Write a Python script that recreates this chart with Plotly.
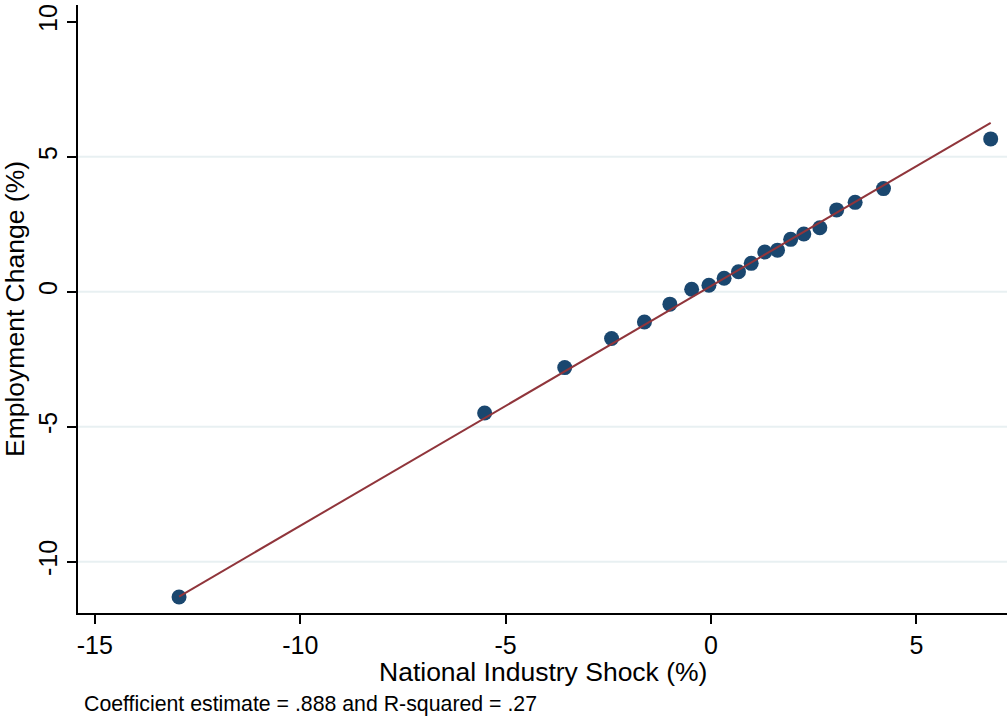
import numpy as np
import plotly.graph_objects as go

# Binned data: national industry shock (%) vs employment change (%)
shock = [-12.95, -5.51, -3.56, -2.42, -1.62, -1.00, -0.47, -0.05, 0.32, 0.67,
         0.98, 1.31, 1.62, 1.94, 2.26, 2.65, 3.06, 3.51, 4.20, 6.81]
emp_change = [-11.31, -4.49, -2.81, -1.73, -1.12, -0.46, 0.09, 0.24, 0.50, 0.74,
              1.05, 1.47, 1.54, 1.94, 2.14, 2.37, 3.03, 3.31, 3.82, 5.66]

fit_slope = 0.888
fit_intercept = 0.21

x_ticks = [-15, -10, -5, 0, 5]
y_ticks = [-10, -5, 0, 5, 10]
y_grid = [-10, -5, 0, 5]

note_text = "Coefficient estimate = .888 and R-squared = .27"
x_title = "National Industry Shock (%)"
y_title = "Employment Change (%)"

fit_x = np.array([min(shock), max(shock)])
fit_y = fit_intercept + fit_slope * fit_x

FONT = "Liberation Sans, Arial, sans-serif"
PLOT_H = 608  # plot area height in px (718 - 5 - 105)

fig = go.Figure()
fig.add_trace(go.Scatter(
    x=shock, y=emp_change, mode="markers",
    marker=dict(color="#1a476f", size=15, line=dict(width=0)),
    showlegend=False, hoverinfo="skip"))
fig.add_trace(go.Scatter(
    x=fit_x, y=fit_y, mode="lines",
    line=dict(color="#90353b", width=2),
    showlegend=False, hoverinfo="skip"))

for g in y_grid:
    fig.add_shape(type="line", xref="paper", x0=0, x1=1, yref="y", y0=g, y1=g,
                  line=dict(color="#e8f0f2", width=2), layer="below")

fig.update_layout(
    width=1007, height=718,
    margin=dict(l=78, r=0, t=5, b=105),
    paper_bgcolor="white", plot_bgcolor="white",
    font=dict(family=FONT, color="black"),
    xaxis=dict(
        range=[-15.41, 7.207], tickvals=x_ticks, ticktext=[str(v) for v in x_ticks],
        showgrid=False, zeroline=False, showline=True, linecolor="black", linewidth=2,
        ticks="outside", ticklen=9, tickwidth=2, tickcolor="black",
        tickfont=dict(size=25, family=FONT),
    ),
    yaxis=dict(
        range=[-11.9, 10.62], tickvals=y_ticks, ticktext=[str(v) for v in y_ticks],
        showgrid=False, zeroline=False, showline=True, linecolor="black", linewidth=2,
        ticks="outside", ticklen=9, tickwidth=2, tickcolor="black",
        tickangle=-90, tickfont=dict(size=25, family=FONT),
        title=dict(text=y_title, font=dict(size=26.5, family=FONT), standoff=8),
    ),
    annotations=[
        dict(text=x_title, xref="paper", yref="paper", x=0.5,
             y=-(672 - 613) / PLOT_H, xanchor="center", yanchor="middle",
             showarrow=False, font=dict(size=26.5, family=FONT, color="black")),
        dict(text=note_text, xref="paper", yref="paper", x=0, xshift=4,
             y=-(704 - 613) / PLOT_H, xanchor="left", yanchor="middle",
             showarrow=False, font=dict(size=21.3, family=FONT, color="black")),
    ],
)

fig.write_html("out.html")
